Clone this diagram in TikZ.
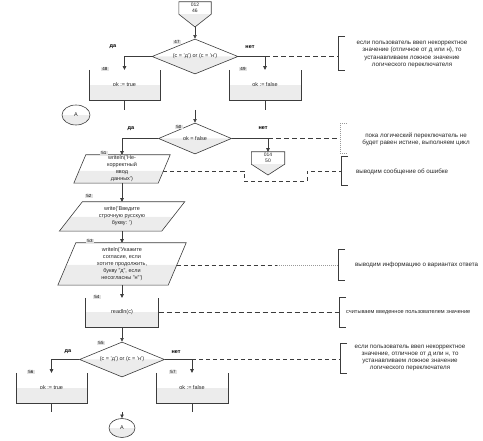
\documentclass[tikz,border=0pt]{standalone}
\usepackage{fontspec}
\setmainfont{Liberation Sans}
\usetikzlibrary{shapes.geometric,arrows.meta,calc,backgrounds}
\definecolor{ink}{HTML}{3C3C3C}
\definecolor{shade}{HTML}{ECECEC}
\definecolor{lblfill}{HTML}{E2E2E2}
\tikzset{
  ln/.style={draw=ink, line width=0.6pt},
  arr/.style={draw=ink, line width=0.6pt, -{Triangle[length=3.6pt,width=3.4pt]}},
  dsh/.style={draw=ink, line width=0.9pt, dash pattern=on 5pt off 3pt},
  dshthin/.style={draw=ink, line width=0.6pt, dash pattern=on 4pt off 3pt},
  dotl/.style={draw=black!40, line width=0.6pt, dash pattern=on 0.8pt off 1.2pt},
  brk/.style={draw=ink, line width=0.6pt},
  shd/.style={fill=shade},
  txt/.style={font=\fontsize{5.5}{7}\selectfont, align=center, inner sep=0pt, text=black!85},
  ctxt/.style={font=\fontsize{5}{6}\selectfont, align=center, inner sep=0pt, text=black!85},
  lbl/.style={font=\fontsize{4.5}{5}\selectfont, fill=lblfill, inner xsep=1.5pt, inner ysep=0.6pt},
  yn/.style={font=\bfseries\fontsize{5.5}{6}\selectfont, inner sep=0pt},
  cmt/.style={font=\fontsize{6.2}{7.2}\selectfont, align=center, inner sep=0pt, text=black!85},
  cmtl/.style={font=\fontsize{6.2}{7.2}\selectfont, anchor=west, inner sep=0pt, text=black!85},
  proc/.style={txt, rectangle, minimum width=#1, minimum height=30pt},
  brnode/.style={inner sep=0pt, minimum width=0pt, minimum height=#1},
}
\begin{document}
\begin{tikzpicture}[x=1pt,y=-1pt]
\useasboundingbox (0,0) rectangle (483,441);

% ---------- top off-page connector
\node[ctxt, minimum width=32pt, minimum height=12pt] (c46) at (195,8) {012\\46};
\coordinate (c46tip) at (195,27);
\draw[ln] (c46.north west) -- (c46.north east) -- (c46.south east) -- (c46tip) -- (c46.south west) -- cycle;

% ---------- diamond 47
\node[txt, diamond, ln, minimum width=86pt, minimum height=35pt, aspect=2.5] (d47) at (195,56.5) {(c = 'д') or (c = 'н')};
\node[lbl] at (177,42) {47};
\node[yn] at (113,47) {да};
\node[yn] at (250,47) {нет};
\draw[arr] (c46tip) -- (d47.north);

% boxes 48/49
\node[proc=71pt] (b48) at (124.5,85) {ok := true};
\draw[ln] (b48.north west) -- (b48.south west) -- (b48.south east) -- (b48.north east);
\node[lbl] at (105,69) {48};
\node[proc=72pt] (b49) at (265,85) {ok := false};
\draw[ln] (b49.north west) -- (b49.south west) -- (b49.south east) -- (b49.north east);
\node[lbl] at (243,69) {49};
\draw[arr] (d47.west) -| (b48.north);
\draw[arr] (d47.east) -| (b49.north);
\coordinate (e48) at (124.5,110);
\coordinate (e49) at (265,110);
\draw[ln] (b48.south) -- (e48);
\draw[ln] (b49.south) -- (e49);

% comment 1
\coordinate (j47) at (b49.north |- d47.east);
\node[brnode=33pt] (k1) at (338,53.5) {};
\draw[brk] ([xshift=7pt]k1.north) -- (k1.north) -- (k1.south) -- ([xshift=7pt]k1.south);
\draw[dsh] (j47) -- (j47 -| k1.west);
\node[cmt] (t1) at (412,54.5) {если пользователь ввел некорректное\\значение (отличное от д или н), то\\устанавливаем ложное значение\\логического переключателя};

% connector A (top)
\node[txt, ellipse, ln, minimum width=28pt, minimum height=20pt] (a1) at (76,115) {A};

% ---------- diamond 50
\coordinate (s50) at (195,110);
\node[txt, diamond, ln, minimum width=73pt, minimum height=31pt, aspect=2.4] (d50) at (195,138.5) {ok = false};
\node[lbl] at (179,127) {50};
\node[yn] at (131,129) {да};
\node[yn] at (263,128) {нет};
\draw[arr] (s50) -- (d50.north);

% parallelogram 51
\node[txt, minimum width=96pt, minimum height=28pt] (p51) at (122,169) {writeln('Не-\\корректный\\ввод\\данных')};
\draw[ln] ([xshift=12pt]p51.north west) -- (p51.north east) -- ([xshift=-12pt]p51.south east) -- (p51.south west) -- cycle;
\node[lbl] at (104,153) {51};
\draw[arr] (d50.west) -| (p51.north);

% connector 014/50
\node[ctxt, minimum width=33pt, minimum height=12pt] (c14) at (268,158) {014\\50};
\coordinate (c14tip) at (268,175);
\draw[ln] (c14.north west) -- (c14.north east) -- (c14.south east) -- (c14tip) -- (c14.south west) -- cycle;
\draw[arr] (d50.east) -| (c14.north);

% comment 2
\coordinate (j50) at (c14.north |- d50.east);
\node[brnode=29pt] (k2) at (340,138.5) {};
\draw[dotl] ([xshift=7pt]k2.north) -- (k2.north) -- (k2.south) -- ([xshift=7pt]k2.south);
\draw[dsh] (j50) -- (j50 -| k2.west);
\node[cmt] (t2) at (416,139.5) {пока логический переключатель не\\будет равен истине, выполняем цикл};

% comment 3
\coordinate (r51) at (163.1,171);
\node[brnode=28pt] (k3) at (341,171) {};
\draw[brk] ([xshift=7pt]k3.north) -- (k3.north) -- (k3.south) -- ([xshift=7pt]k3.south);
\coordinate (w1) at (244,171);
\coordinate (w2) at (244,181);
\coordinate (w3) at (307,181);
\coordinate (w4) at (307,171);
\draw[dshthin] (r51) -- (w1) -- (w2) -- (w3) -- (w4) -- (k3.west);
\node[cmtl] (t3) at (356,172) {выводим сообщение об ошибке};

% parallelogram 52
\node[txt, minimum width=125pt, minimum height=29pt] (p52) at (122,216.5) {write('Введите\\строчную русскую\\букву: ')};
\draw[ln] ([xshift=23pt]p52.north west) -- (p52.north east) -- ([xshift=-23pt]p52.south east) -- (p52.south west) -- cycle;
\node[lbl] at (89,196) {52};
\draw[arr] (p51.south) -- (p52.north);

% parallelogram 53
\node[txt, minimum width=128pt, minimum height=42pt] (p53) at (122,264) {writeln('Укажите\\согласие, если\\хотите продолжить,\\букву "д", если\\несогласны "н"')};
\draw[ln] ([xshift=18pt]p53.north west) -- (p53.north east) -- ([xshift=-18pt]p53.south east) -- (p53.south west) -- cycle;
\node[lbl] at (90,241) {53};
\draw[arr] (p52.south) -- (p53.north);

% comment 4
\coordinate (r53) at (176.6,265);
\coordinate (m53) at (277,265);
\node[brnode=30pt] (k4) at (338,265) {};
\draw[brk] ([xshift=7pt]k4.north) -- (k4.north) -- (k4.south) -- ([xshift=7pt]k4.south);
\draw[dshthin] (r53) -- (m53);
\draw[dotl] (m53) -- (k4.west);
\node[cmtl] (t4) at (355,265) {выводим информацию о вариантах ответа};

% readln 54
\node[proc=73pt, minimum height=29pt] (b54) at (122,312.5) {readln(c)};
\draw[ln] (b54.north west) -- (b54.south west) -- (b54.south east) -- (b54.north east);
\node[lbl] at (97,297) {54};
\draw[arr] (p53.south) -- (b54.north);

% comment 5
\node[brnode=30pt] (k5) at (339,312.5) {};
\draw[brk] ([xshift=7pt]k5.north) -- (k5.north) -- (k5.south) -- ([xshift=7pt]k5.south);
\draw[dsh] (b54.east) -- (k5.west);
\node[cmtl, font=\fontsize{5.6}{7}\selectfont] (t5) at (346,313) {считываем введенное пользователем значение};

% ---------- diamond 55
\node[txt, diamond, ln, minimum width=85pt, minimum height=35pt, aspect=2.5] (d55) at (122,359.5) {(c = 'д') or (c = 'н')};
\node[lbl] at (101,343) {55};
\node[yn] at (68,352) {да};
\node[yn] at (176,352) {нет};
\draw[arr] (b54.south) -- (d55.north);

\node[proc=71pt] (b56) at (51.5,388) {ok := true};
\draw[ln] (b56.north west) -- (b56.south west) -- (b56.south east) -- (b56.north east);
\node[lbl] at (31,372) {56};
\node[proc=72pt] (b57) at (192,388) {ok := false};
\draw[ln] (b57.north west) -- (b57.south west) -- (b57.south east) -- (b57.north east);
\node[lbl] at (173,372) {57};
\draw[arr] (d55.west) -| (b56.north);
\draw[arr] (d55.east) -| (b57.north);
\coordinate (e56) at (51.5,412);
\coordinate (e57) at (192,412);
\draw[ln] (b56.south) -- (e56);
\draw[ln] (b57.south) -- (e57);

% comment 6
\coordinate (j55) at (b57.north |- d55.east);
\node[brnode=29pt] (k6) at (340,358.5) {};
\draw[brk] ([xshift=7pt]k6.north) -- (k6.north) -- (k6.south) -- ([xshift=7pt]k6.south);
\draw[dshthin] (j55) -- (j55 -| k6.west);
\node[cmt] (t6) at (410,358) {если пользователь ввел некорректное\\значение, отличное от д или н, то\\устанавливаем ложное значение\\логического переключателя};

% connector A (bottom)
\coordinate (s2) at (122,412);
\node[txt, ellipse, ln, minimum width=26pt, minimum height=19pt] (a2) at (122,428) {A};
\draw[arr] (s2) -- (a2.north);

% ---------- shading (background)
\begin{pgfonlayer}{background}
  \fill[shd] (c46.south west) -- (c46.south east) -- (c46tip) -- cycle;
  \fill[shd] (d47.west) -- (d47.east) -- (d47.south) -- cycle;
  \fill[shd] (b48.west) rectangle (b48.south east);
  \fill[shd] (b49.west) rectangle (b49.south east);
  \begin{scope}
    \clip (76,115) ellipse [x radius=14pt, y radius=10pt];
    \fill[shd] (60,115) rectangle (92,127);
  \end{scope}
  \fill[shd] (d50.west) -- (d50.east) -- (d50.south) -- cycle;
  \fill[shd] (79.1,171) -- (163.1,171) -- (158,183) -- (74,183) -- cycle;
  \fill[shd] (c14.south west) -- (c14.south east) -- (c14tip) -- cycle;
  \fill[shd] (70.6,217) -- (172.6,217) -- (161.5,231) -- (59.5,231) -- cycle;
  \fill[shd] (66.6,265) -- (176.6,265) -- (168,285) -- (58,285) -- cycle;
  \fill[shd] (b54.west) rectangle (b54.south east);
  \fill[shd] (d55.west) -- (d55.east) -- (d55.south) -- cycle;
  \fill[shd] (b56.west) rectangle (b56.south east);
  \fill[shd] (b57.west) rectangle (b57.south east);
  \begin{scope}
    \clip (122,428) ellipse [x radius=13pt, y radius=9.5pt];
    \fill[shd] (105,428) rectangle (139,439);
  \end{scope}
\end{pgfonlayer}
\end{tikzpicture}
\end{document}
